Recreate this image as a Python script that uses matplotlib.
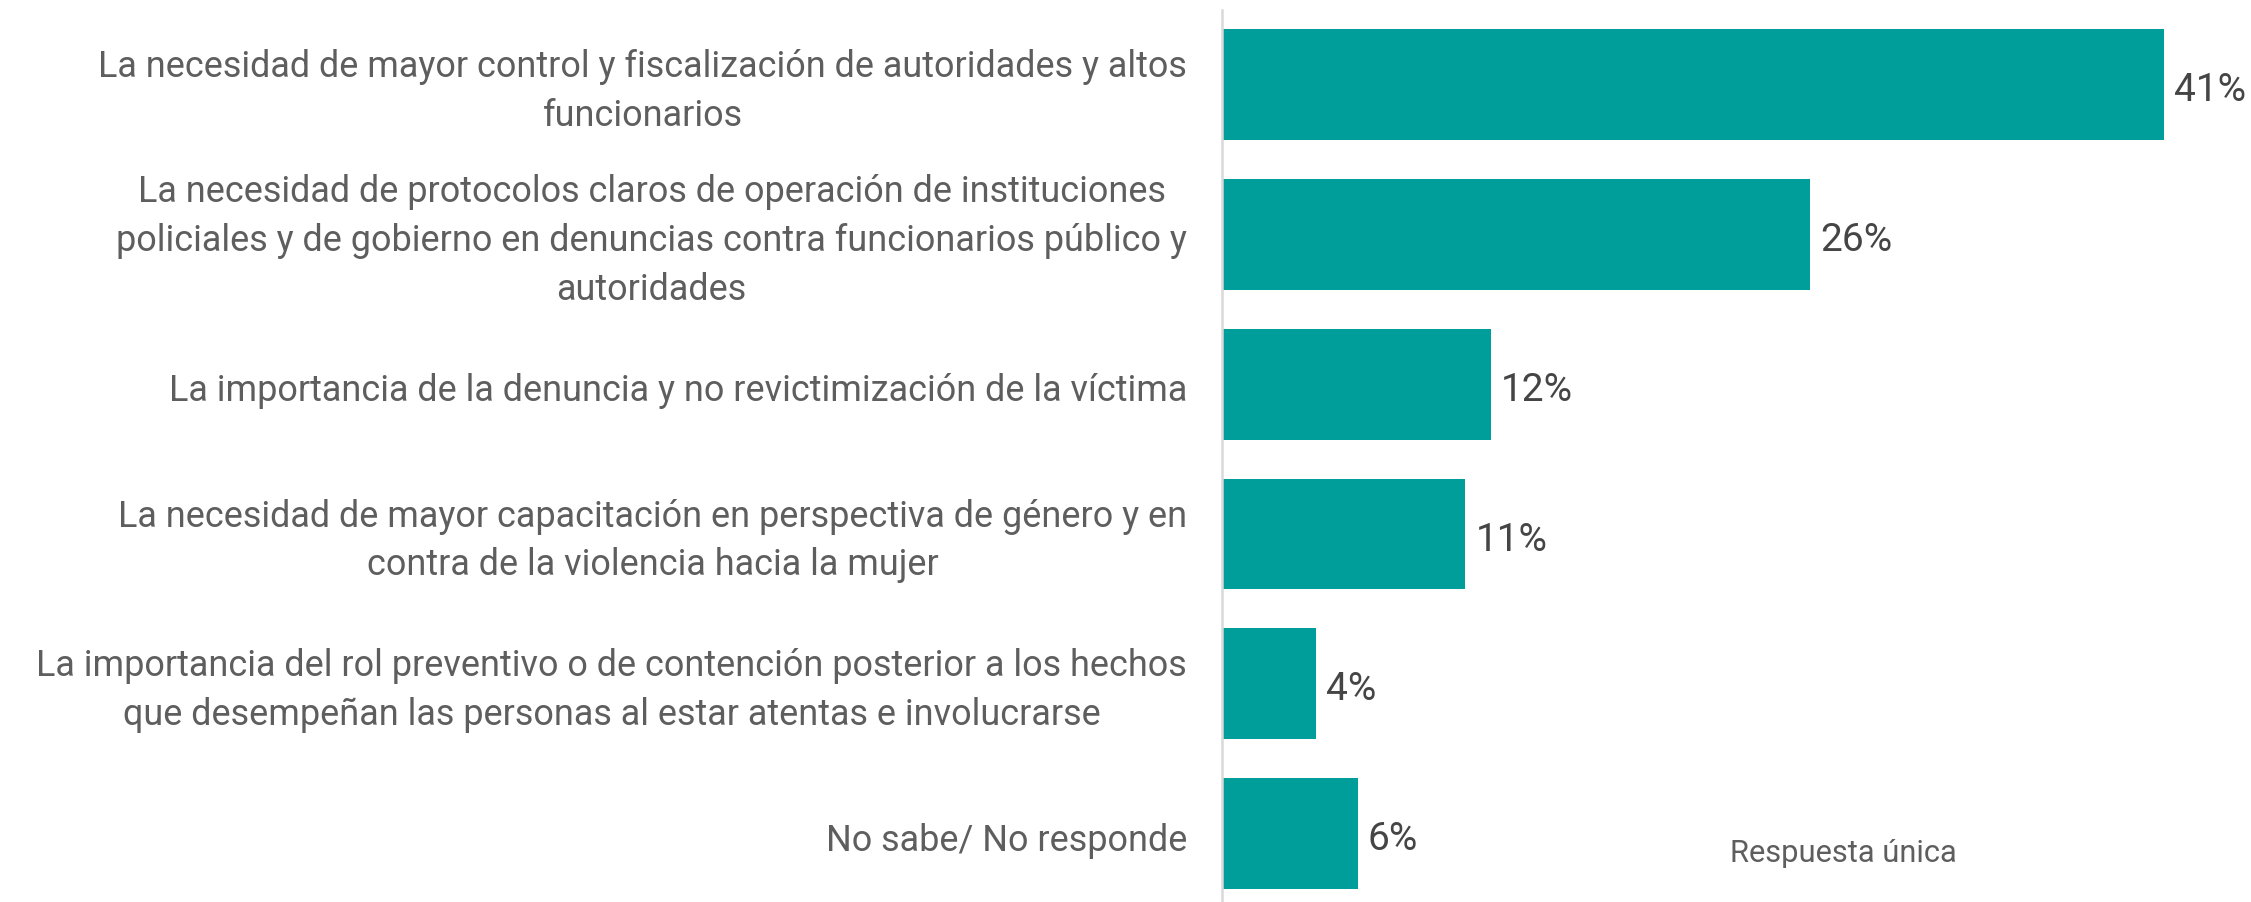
import matplotlib
matplotlib.use("Agg")
import matplotlib.pyplot as plt

categories = [
    "La necesidad de mayor control y fiscalización de autoridades y altos\nfuncionarios",
    "La necesidad de protocolos claros de operación de instituciones\npoliciales y de gobierno en denuncias contra funcionarios público y\nautoridades",
    "La importancia de la denuncia y no revictimización de la víctima",
    "La necesidad de mayor capacitación en perspectiva de género y en\ncontra de la violencia hacia la mujer",
    "La importancia del rol preventivo o de contención posterior a los hechos\nque desempeñan las personas al estar atentas e involucrarse",
    "No sabe/ No responde",
]
values = [41.0, 25.6, 11.7, 10.6, 4.1, 5.9]
value_labels = ["41%", "26%", "12%", "11%", "4%", "6%"]
note = "Respuesta única"

W, H, DPI = 2251, 903, 100
fig = plt.figure(figsize=(W / DPI, H / DPI), dpi=DPI)
plt.rcParams['font.family'] = ['Roboto', 'DejaVu Sans']

ax_left = 1222 / W
ax_top = 1 - 11 / H
ax = fig.add_axes([ax_left, 0.0, 1 - ax_left, ax_top])

bar_color = "#009e9b"
text_color = "#5e5e5e"
ypos = list(range(len(values)))
ax.barh(ypos, values, height=0.74, color=bar_color, edgecolor='none')
ax.set_xlim(0, 44.8)
ax.set_ylim(5.455, -0.496)

for s in ['top', 'right', 'bottom']:
    ax.spines[s].set_visible(False)
ax.spines['left'].set_color('#d9d9d9')
ax.spines['left'].set_linewidth(1.8)
ax.set_xticks([])
ax.set_yticks(ypos)
ax.set_yticklabels([])
ax.tick_params(axis='y', length=0)

for y, lab in zip(ypos, categories):
    ax.annotate(lab, xy=(0, y), xycoords='data', xytext=(-35, -6),
                textcoords='offset pixels', ha='right', va='center',
                multialignment='center', fontsize=25.9, color=text_color,
                fontweight='normal', linespacing=1.46)

for y, v, t in zip(ypos, values, value_labels):
    ax.annotate(t, xy=(v, y), xycoords='data', xytext=(10, -5),
                textcoords='offset pixels', ha='left', va='center',
                fontsize=28, color="#454545", fontweight='normal')

fig.text(1843 / W, 1 - 854 / H, note, ha='center', va='center',
         fontsize=22.2, color=text_color, fontweight='normal')

fig.savefig("out.png", dpi=DPI, facecolor='white')
